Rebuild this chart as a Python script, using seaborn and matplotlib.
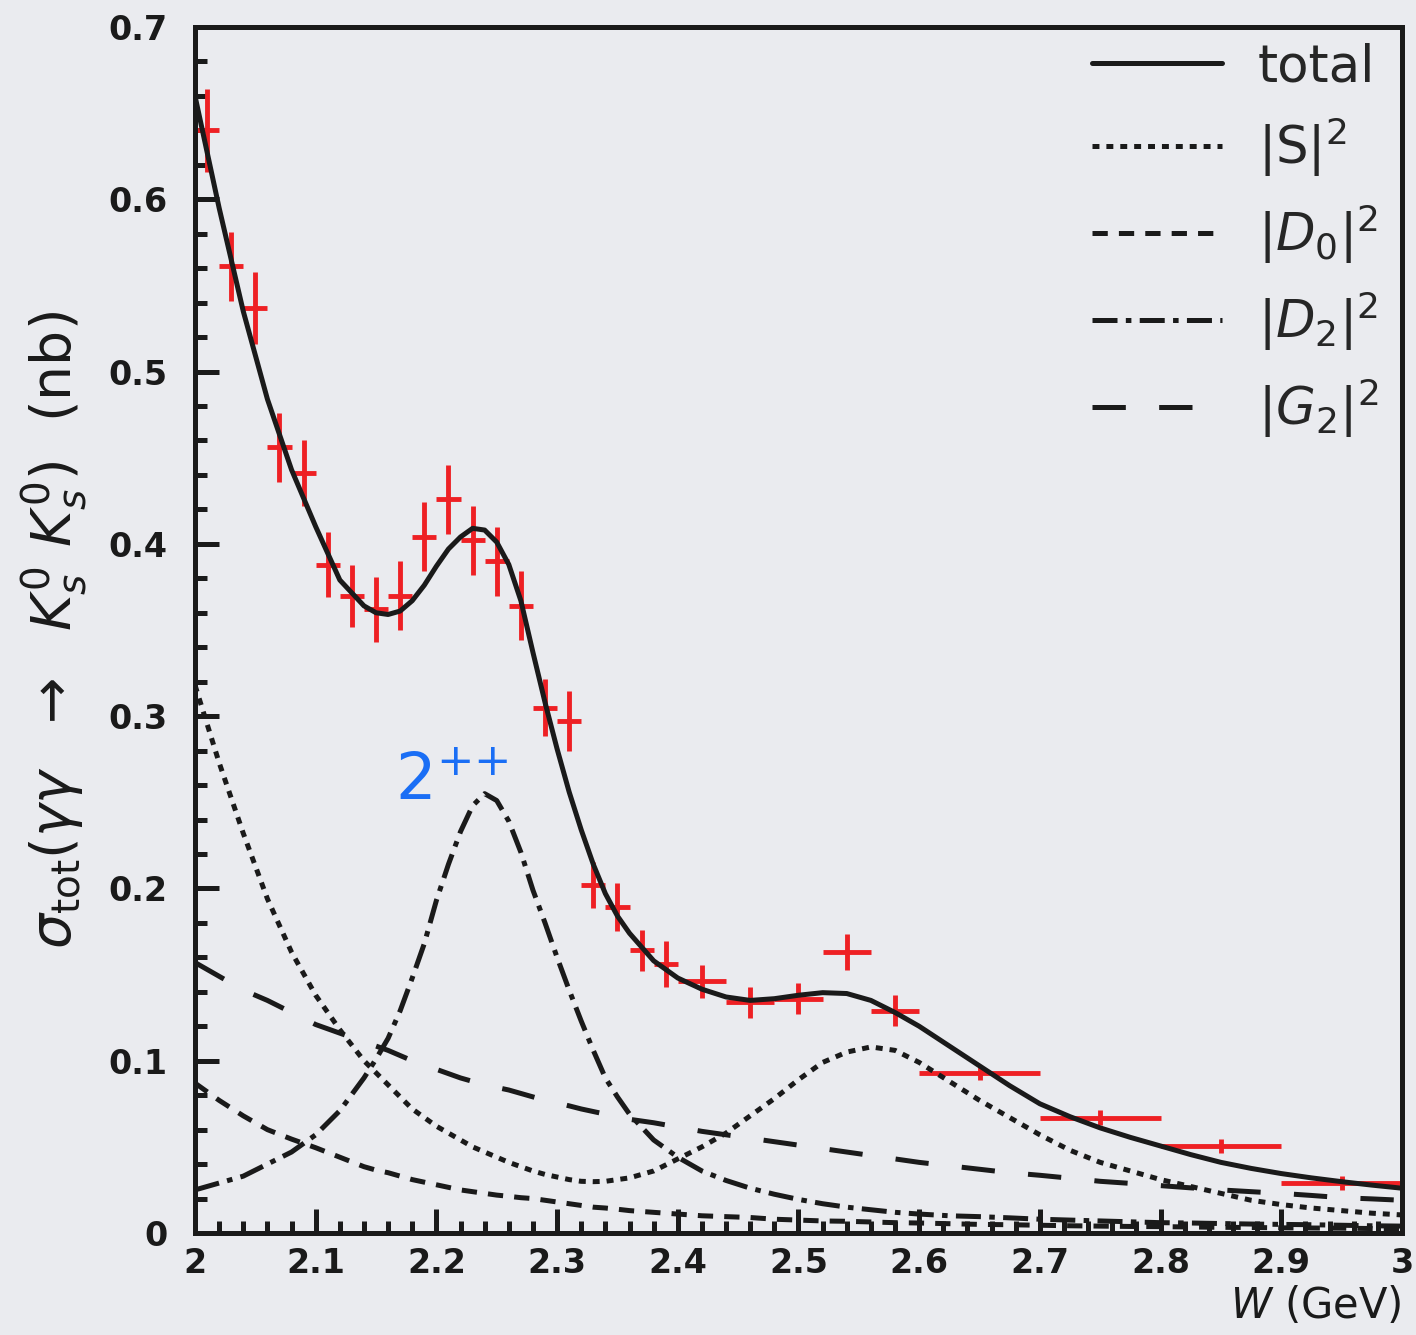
import matplotlib
matplotlib.use("Agg")
import matplotlib.pyplot as plt
from matplotlib.ticker import FixedLocator, MultipleLocator
import seaborn as sns

# measured cross section: bin centre, half bin width, value, error (nb)
w_data = [2.01, 2.03, 2.05, 2.07, 2.09, 2.11, 2.13, 2.15, 2.17, 2.19,
          2.21, 2.23, 2.25, 2.27, 2.29, 2.31, 2.33, 2.35, 2.37, 2.39,
          2.42, 2.46, 2.50, 2.54, 2.58, 2.65, 2.75, 2.85, 2.95]
w_half = [0.01, 0.01, 0.01, 0.01, 0.01, 0.01, 0.01, 0.01, 0.01, 0.01,
          0.01, 0.01, 0.01, 0.01, 0.01, 0.01, 0.01, 0.01, 0.01, 0.01,
          0.02, 0.02, 0.02, 0.02, 0.02, 0.05, 0.05, 0.05, 0.05]
sigma = [0.640, 0.561, 0.537, 0.456, 0.441, 0.388, 0.370, 0.362, 0.370, 0.404,
         0.426, 0.402, 0.390, 0.364, 0.305, 0.297, 0.202, 0.189, 0.164, 0.156,
         0.146, 0.134, 0.136, 0.163, 0.129, 0.093, 0.067, 0.0505, 0.029]
sigma_err = [0.024, 0.020, 0.021, 0.020, 0.019, 0.019, 0.018, 0.019, 0.020, 0.020,
             0.020, 0.020, 0.020, 0.020, 0.0165, 0.0175, 0.0135, 0.014, 0.012, 0.0135,
             0.0095, 0.009, 0.009, 0.0105, 0.009, 0.004, 0.0045, 0.004, 0.004]

# fit curves
w_curve = [2.00, 2.02, 2.04, 2.06, 2.08, 2.10, 2.12,
           2.14, 2.15, 2.16, 2.17, 2.18, 2.19, 2.20, 2.21, 2.22, 2.23, 2.24, 2.25,
           2.26, 2.27, 2.28, 2.29, 2.30, 2.31, 2.32, 2.33, 2.34, 2.35, 2.36,
           2.38, 2.40, 2.42, 2.44, 2.46, 2.48, 2.50, 2.52, 2.54, 2.56, 2.58,
           2.60, 2.625, 2.65, 2.675, 2.70, 2.725, 2.75, 2.775, 2.80, 2.825,
           2.85, 2.875, 2.90, 2.925, 2.95, 2.975, 3.00]
total = [0.660, 0.595, 0.535, 0.484, 0.443, 0.410, 0.379,
         0.364, 0.360, 0.359, 0.361, 0.367, 0.376, 0.387, 0.397, 0.404, 0.409, 0.408, 0.401,
         0.388, 0.367, 0.337, 0.308, 0.281, 0.256, 0.234, 0.214, 0.197, 0.184, 0.174,
         0.158, 0.148, 0.1415, 0.137, 0.135, 0.136, 0.138, 0.1395, 0.139, 0.135, 0.128,
         0.120, 0.1085, 0.097, 0.0855, 0.075, 0.0675, 0.061, 0.0555, 0.0505, 0.0455,
         0.041, 0.0375, 0.0345, 0.032, 0.0298, 0.0278, 0.026]
s_wave = [0.318, 0.273, 0.232, 0.194, 0.163, 0.138, 0.118,
          0.100, 0.093, 0.086, 0.079, 0.072, 0.067, 0.062, 0.058, 0.054, 0.050, 0.047, 0.044,
          0.041, 0.0385, 0.036, 0.034, 0.0325, 0.031, 0.030, 0.0298, 0.030, 0.031, 0.032,
          0.036, 0.043, 0.050, 0.058, 0.068, 0.078, 0.089, 0.099, 0.105, 0.108, 0.106,
          0.099, 0.088, 0.077, 0.067, 0.057, 0.048, 0.041, 0.036, 0.031, 0.027,
          0.023, 0.019, 0.0165, 0.0145, 0.013, 0.0115, 0.0105]
d0_wave = [0.087, 0.077, 0.068, 0.060, 0.0545, 0.0495, 0.044,
           0.0385, 0.0365, 0.035, 0.033, 0.031, 0.0295, 0.028, 0.0265, 0.025, 0.024, 0.023, 0.022,
           0.0213, 0.0205, 0.020, 0.019, 0.018, 0.017, 0.016, 0.015, 0.0145, 0.0138, 0.013,
           0.012, 0.011, 0.010, 0.0095, 0.009, 0.008, 0.0075, 0.007, 0.0068, 0.0064, 0.006,
           0.0058, 0.0054, 0.005, 0.0048, 0.0045, 0.0042, 0.004, 0.0038, 0.0037, 0.0035,
           0.0033, 0.0032, 0.003, 0.0029, 0.0028, 0.0026, 0.0025]
d2_wave = [0.025, 0.029, 0.033, 0.040, 0.047, 0.057, 0.071,
           0.090, 0.101, 0.113, 0.129, 0.148, 0.168, 0.193, 0.214, 0.233, 0.248, 0.255, 0.251,
           0.239, 0.221, 0.199, 0.180, 0.160, 0.141, 0.123, 0.106, 0.090, 0.079, 0.069,
           0.054, 0.044, 0.036, 0.0305, 0.026, 0.0225, 0.0195, 0.017, 0.015, 0.0135, 0.012,
           0.011, 0.010, 0.0095, 0.0088, 0.008, 0.0075, 0.007, 0.0065, 0.006, 0.0058,
           0.0055, 0.0052, 0.005, 0.0048, 0.0045, 0.0042, 0.004]
g2_wave = [0.157, 0.149, 0.141, 0.135, 0.128, 0.121, 0.116,
           0.111, 0.1085, 0.106, 0.103, 0.100, 0.0975, 0.095, 0.0925, 0.090, 0.088, 0.086, 0.0845,
           0.083, 0.081, 0.079, 0.077, 0.0755, 0.0738, 0.072, 0.0705, 0.069, 0.0675, 0.066,
           0.064, 0.0615, 0.059, 0.057, 0.055, 0.053, 0.051, 0.049, 0.047, 0.045, 0.043,
           0.041, 0.039, 0.037, 0.035, 0.0335, 0.0318, 0.030, 0.0288, 0.0275, 0.0262,
           0.025, 0.024, 0.023, 0.0218, 0.0205, 0.0198, 0.019]

x_ticks = [2.0, 2.1, 2.2, 2.3, 2.4, 2.5, 2.6, 2.7, 2.8, 2.9, 3.0]
x_tick_labels = ["2", "2.1", "2.2", "2.3", "2.4", "2.5", "2.6", "2.7", "2.8", "2.9", "3"]
y_ticks = [0.0, 0.1, 0.2, 0.3, 0.4, 0.5, 0.6, 0.7]
y_tick_labels = ["0", "0.1", "0.2", "0.3", "0.4", "0.5", "0.6", "0.7"]

bg = "#eaebef"
ink = "#1a1a1a"

sns.set_style("ticks")
plt.rcParams["font.family"] = ["DejaVu Sans"]
plt.rcParams["mathtext.fontset"] = "dejavusans"
plt.rcParams["lines.scale_dashes"] = False

fig = plt.figure(figsize=(14.16, 13.35), dpi=100, facecolor=bg)
ax = fig.add_axes([0.1377, 0.0764, 0.8524, 0.9034])
ax.set_facecolor(bg)

ax.errorbar(w_data, sigma, xerr=w_half, yerr=sigma_err, fmt="none",
            ecolor="#ee2024", elinewidth=3.5, capsize=0, zorder=2)

curves = [
    (total, "total", "-"),
    (s_wave, r"$|\mathrm{S}|^2$", (0, (5, 5))),
    (d0_wave, r"$|D_0|^2$", (0, (11, 8))),
    (d2_wave, r"$|D_2|^2$", (0, (18, 6, 4, 6))),
    (g2_wave, r"$|G_2|^2$", (0, (24, 24))),
]
for vals, lab, ls in curves:
    sns.lineplot(x=w_curve, y=vals, ax=ax, color=ink, lw=3.6, linestyle=ls,
                 label=lab, legend=False, zorder=3)

ax.set_xlim(2.0, 3.0)
ax.set_ylim(0.0, 0.7)
ax.xaxis.set_major_locator(FixedLocator(x_ticks))
ax.set_xticklabels(x_tick_labels)
ax.xaxis.set_minor_locator(MultipleLocator(0.02))
ax.yaxis.set_major_locator(FixedLocator(y_ticks))
ax.set_yticklabels(y_tick_labels)
ax.yaxis.set_minor_locator(MultipleLocator(0.02))

ax.tick_params(which="both", direction="in", width=3.6, color=ink,
               top=False, right=False, labelsize=24, labelcolor=ink)
ax.tick_params(which="major", length=17)
ax.tick_params(which="minor", length=8.5)
ax.tick_params(axis="y", pad=20)
ax.tick_params(axis="x", pad=10)
for lbl in ax.get_xticklabels() + ax.get_yticklabels():
    lbl.set_fontweight("bold")

for sp in ax.spines.values():
    sp.set_linewidth(3.6)
    sp.set_color(ink)
    sp.set_visible(True)

ax.set_ylabel(r"$\sigma_{\mathrm{tot}}(\gamma\gamma\ \ \rightarrow\ \ K^0_s\ K^0_s)\ \ (\mathrm{nb})$",
              fontsize=40, labelpad=14, color=ink)
ax.set_xlabel(r"$W$ (GeV)", fontsize=30, loc="right", labelpad=4, color=ink)

ax.text(2.166, 0.2515, r"$2^{{+}{+}}$", fontsize=46, color="#1a6ef5", va="baseline")

ax.legend(loc="upper right", bbox_to_anchor=(0.993, 1.0), frameon=False, fontsize=37,
          handlelength=2.53, handletextpad=0.7, labelspacing=0.45,
          borderaxespad=0.2, borderpad=0.1)

fig.savefig("out.png", dpi=100, facecolor=bg)
